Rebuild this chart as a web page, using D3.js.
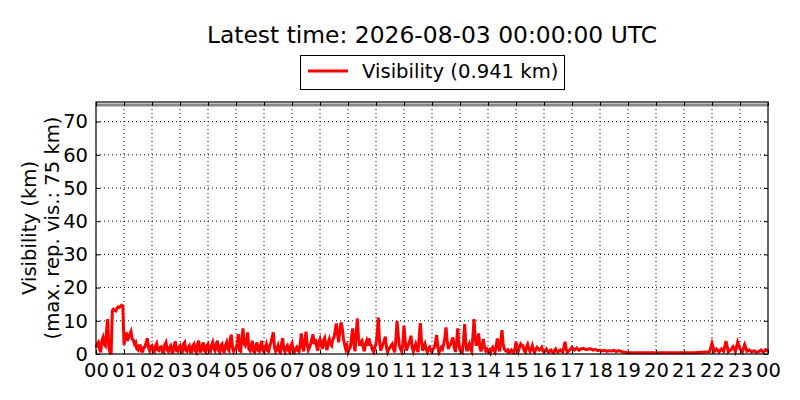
<!DOCTYPE html>
<html>
<head>
<meta charset="utf-8">
<script src="https://cdn.jsdelivr.net/npm/d3@7"></script>
<style>
  body { margin: 0; background: #fff; }
  text { font-family: "DejaVu Sans", sans-serif; }
</style>
</head>
<body>
<div id="chart"></div>
<script>
// visibility in km per hour of the day; busy hours every 2.5 min, calm hours every 5 min
const hourlyValues = [
  [2, 3, 3.5, 1.5, 0.5, 4, 5, 3, 2.5, 7, 10.5, 2, 0.3, 0.3, 13, 13.5, 13.2, 13, 13.8, 14.2, 14, 14.3, 14.7, 14.5], // 00
  [2.8, 5, 6.5, 4, 5.2, 6, 6.8, 4.5, 4.2, 3, 3.5, 1.5, 1.2, 2.5, 2.5, 0.8, 0.8, 2, 2.2, 3.5, 4.8, 2, 1, 2.2],       // 01
  [2.5, 0.8, 0.6, 2.5, 3.2, 1.2, 1, 2, 2.2, 0.6, 0.5, 2.8, 3.5, 1.2, 0.8, 2, 2.5, 0.5, 0.5, 2.5, 3.8, 1, 0.8, 2],    // 02
  [2.5, 0.5, 0.5, 3, 3.5, 1, 0.8, 2, 2.5, 0.6, 0.6, 2.5, 3, 1, 0.5, 3, 4, 0.8, 0.8, 2.5, 3.5, 1, 0.6, 2.5],          // 03
  [3, 1, 0.8, 2.5, 3.5, 1.5, 1, 3, 4, 1, 0.6, 2.5, 3, 0.8, 0.7, 2.5, 3.5, 1.5, 1, 4.5, 5.8, 2, 0.8, 1.5],            // 04
  [1.5, 3, 6, 1, 0.8, 5, 7.7, 3, 2.5, 4, 6.5, 1.5, 1, 2.5, 4, 0.8, 0.6, 2.5, 3.5, 1, 0.8, 2.5, 4, 1],                // 05
  [0.6, 2, 3, 1, 0.8, 2.5, 3.5, 5, 6.5, 2, 0.8, 1.5, 2.5, 0.8, 0.5, 3, 4.8, 1.5, 0.7, 2, 2.5, 1, 0.6, 2.5],          // 06
  [3.2, 1, 0.5, 1.5, 2, 1, 0.7, 3, 6.2, 2, 0.8, 4, 6.7, 3, 1.2, 2, 3, 4.5, 5.9, 3, 4.5, 2.5, 1, 3.5],                // 07
  [4.5, 3, 1.5, 4, 4.8, 2.5, 1.2, 3.5, 4.5, 3, 2.5, 4.5, 5, 7, 9.2, 6, 3.5, 7, 9.5, 8, 5, 3, 1.5, 2.5],              // 08
  [0.6, 1.5, 2, 5, 7.7, 3, 0.8, 6, 10.7, 5, 2.5, 3.5, 4, 2, 0.8, 3, 4, 2.5, 4.7, 3, 2.5, 1.2, 0.6, 2],               // 09
  [3, 6, 11, 4, 1, 2, 3, 4, 5.2, 2, 0.6, 1.5, 2, 2.5, 3, 1.5, 0.5, 4, 10, 6, 2.5, 1.5, 0.8, 3],                      // 10
  [8.5, 4, 1, 2, 3, 4, 5.5, 2, 0.8, 2, 3, 1.5, 0.6, 5, 9.3, 4, 1, 2, 3, 1.5, 0.6, 1.5, 2, 1],                        // 11
  [0.6, 1.5, 2, 3.5, 5.7, 2, 0.5, 1.2, 2, 1.5, 3, 5, 8, 4, 1.5, 2.5, 3, 4, 5, 2, 0.6, 3, 7.7, 3],                    // 12
  [1.2, 0.8, 0.5, 4, 9, 3, 0.8, 2, 3, 1.5, 0.8, 5, 10.5, 5, 2.5, 4, 6.2, 2, 0.8, 2.5, 4.5, 2, 1, 1.5],               // 13
  [0.8, 1.2, 0.4, 1.5, 2, 1, 0.5, 2.5, 4.7, 2, 0.8, 4, 7.2, 3, 1.5, 1, 0.8, 1.2, 0.5, 0.8, 1.2, 0.6, 0.4, 1.5],      // 14
  [3.7, 2, 0.8, 2, 3, 2.5, 2.5, 1, 0.6, 2, 2.9, 1.5, 0.8, 1.5, 2.5, 1, 0.5, 1.5, 2, 1.5, 1.2, 1.5, 2, 1],            // 15
  [0.6, 1, 1.5, 0.8, 0.5, 1, 1.2, 0.6, 0.4, 1, 1.5, 0.8, 0.6, 1, 1.2, 0.8, 0.6, 2, 3.7, 1.5, 0.6, 0.8, 1.2, 1.5],    // 16
  [2, 1.2, 1.8, 1.1, 1.6, 1.7, 1.3, 1.5, 1.6, 1.2, 1.4, 1],        // 17
  [1.2, 0.9, 1.1, 0.8, 1, 0.9, 1.1, 0.7, 1, 0.8, 0.6, 0.5],        // 18
  [0.4, 0.4, 0.35, 0.4, 0.4, 0.35, 0.4, 0.4, 0.4, 0.35, 0.4, 0.4], // 19
  [0.4, 0.35, 0.4, 0.4, 0.35, 0.4, 0.4, 0.4, 0.35, 0.4, 0.4, 0.4], // 20
  [0.4, 0.4, 0.35, 0.4, 0.4, 0.4, 0.45, 0.5, 0.5, 0.6, 0.6, 0.7],  // 21
  [3.3, 0.8, 1.5, 0.6, 1.5, 0.8, 3.9, 0.6, 1.2, 2.2, 0.7, 3.6],    // 22
  [1.5, 0.6, 2.8, 0.8, 1.2, 0.6, 1, 0.5, 0.7, 1.2, 0.5, 1.3]       // 23
];
const lastValue = 0.941;
const maxRepVis = 75;
const hourLabels = d3.range(25).map(h => String(h % 24).padStart(2, "0"));
const yTicks = [0, 10, 20, 30, 40, 50, 60, 70];

// flatten to [hours, km]
const series = [];
hourlyValues.forEach((vals, h) => vals.forEach((v, i) => series.push([h + i / vals.length, v])));
series.push([24, lastValue]);

const width = 800, height = 400;
const margin = {top: 102, right: 32, bottom: 46, left: 96};

const svg = d3.select("#chart").append("svg")
  .attr("width", width)
  .attr("height", height);

const x = d3.scaleLinear().domain([0, 24]).range([margin.left, width - margin.right]);
const y = d3.scaleLinear().domain([0, 75.9]).range([height - margin.bottom, margin.top]);

// grid
svg.append("g").selectAll("line.v")
  .data(d3.range(1, 24))
  .enter().append("line")
  .attr("x1", d => x(d)).attr("x2", d => x(d))
  .attr("y1", y.range()[0]).attr("y2", y.range()[1])
  .attr("stroke", "#000").attr("stroke-width", 1)
  .attr("stroke-dasharray", "1,3");
svg.append("g").selectAll("line.h")
  .data(yTicks.slice(1))
  .enter().append("line")
  .attr("x1", x.range()[0]).attr("x2", x.range()[1])
  .attr("y1", d => y(d)).attr("y2", d => y(d))
  .attr("stroke", "#000").attr("stroke-width", 1)
  .attr("stroke-dasharray", "1,3");

// max reported visibility line
svg.append("line")
  .attr("x1", x.range()[0]).attr("x2", x.range()[1])
  .attr("y1", y(maxRepVis)).attr("y2", y(maxRepVis))
  .attr("stroke", "#888").attr("stroke-width", 3);

// data line
svg.append("path")
  .datum(series)
  .attr("fill", "none")
  .attr("stroke", "red")
  .attr("stroke-width", 3)
  .attr("stroke-linejoin", "miter")
  .attr("d", d3.line().x(d => x(d[0])).y(d => y(d[1])));

// frame
svg.append("rect")
  .attr("x", x.range()[0]).attr("y", y.range()[1])
  .attr("width", x.range()[1] - x.range()[0])
  .attr("height", y.range()[0] - y.range()[1])
  .attr("fill", "none").attr("stroke", "#000").attr("stroke-width", 1.2);

// axes, ticks pointing inward on all sides
svg.append("g")
  .attr("transform", `translate(0,${y.range()[0]})`)
  .call(d3.axisBottom(x).tickValues(d3.range(25)).tickSize(-4).tickPadding(9)
    .tickFormat(d => hourLabels[d]));
svg.append("g")
  .attr("transform", `translate(0,${y.range()[1]})`)
  .call(d3.axisTop(x).tickValues(d3.range(25)).tickSize(-4).tickFormat(""));
svg.append("g")
  .attr("transform", `translate(${x.range()[0]},0)`)
  .call(d3.axisLeft(y).tickValues(yTicks).tickSize(-4).tickPadding(8));
svg.append("g")
  .attr("transform", `translate(${x.range()[1]},0)`)
  .call(d3.axisRight(y).tickValues(yTicks).tickSize(-4).tickFormat(""));
svg.selectAll(".domain").remove();
svg.selectAll(".tick text")
  .attr("font-family", "DejaVu Sans")
  .attr("font-size", "19.5px")
  .attr("fill", "#000");

// titles
svg.append("text")
  .attr("x", (x.range()[0] + x.range()[1]) / 2)
  .attr("y", 43)
  .attr("text-anchor", "middle")
  .attr("font-size", "23.4px")
  .text("Latest time: 2026-08-03 00:00:00 UTC");

svg.append("text")
  .attr("transform", "rotate(-90)")
  .attr("x", -(y.range()[0] + y.range()[1]) / 2)
  .attr("y", 36)
  .attr("text-anchor", "middle")
  .attr("font-size", "19.6px")
  .text("Visibility (km)");
svg.append("text")
  .attr("transform", "rotate(-90)")
  .attr("x", -(y.range()[0] + y.range()[1]) / 2)
  .attr("y", 59)
  .attr("text-anchor", "middle")
  .attr("font-size", "19.6px")
  .text("(max. rep. vis.: 75 km)");

// legend
const legend = svg.append("g").attr("transform", "translate(300,55)");
legend.append("rect")
  .attr("x", 0.5).attr("y", 0.5)
  .attr("width", 264).attr("height", 34)
  .attr("fill", "#fff").attr("stroke", "#000").attr("stroke-width", 1);
legend.append("line")
  .attr("x1", 8).attr("x2", 48).attr("y1", 16).attr("y2", 16)
  .attr("stroke", "red").attr("stroke-width", 3);
legend.append("text")
  .attr("x", 62).attr("y", 23)
  .attr("font-size", "19.6px")
  .text(`Visibility (${lastValue} km)`);
</script>
</body>
</html>
